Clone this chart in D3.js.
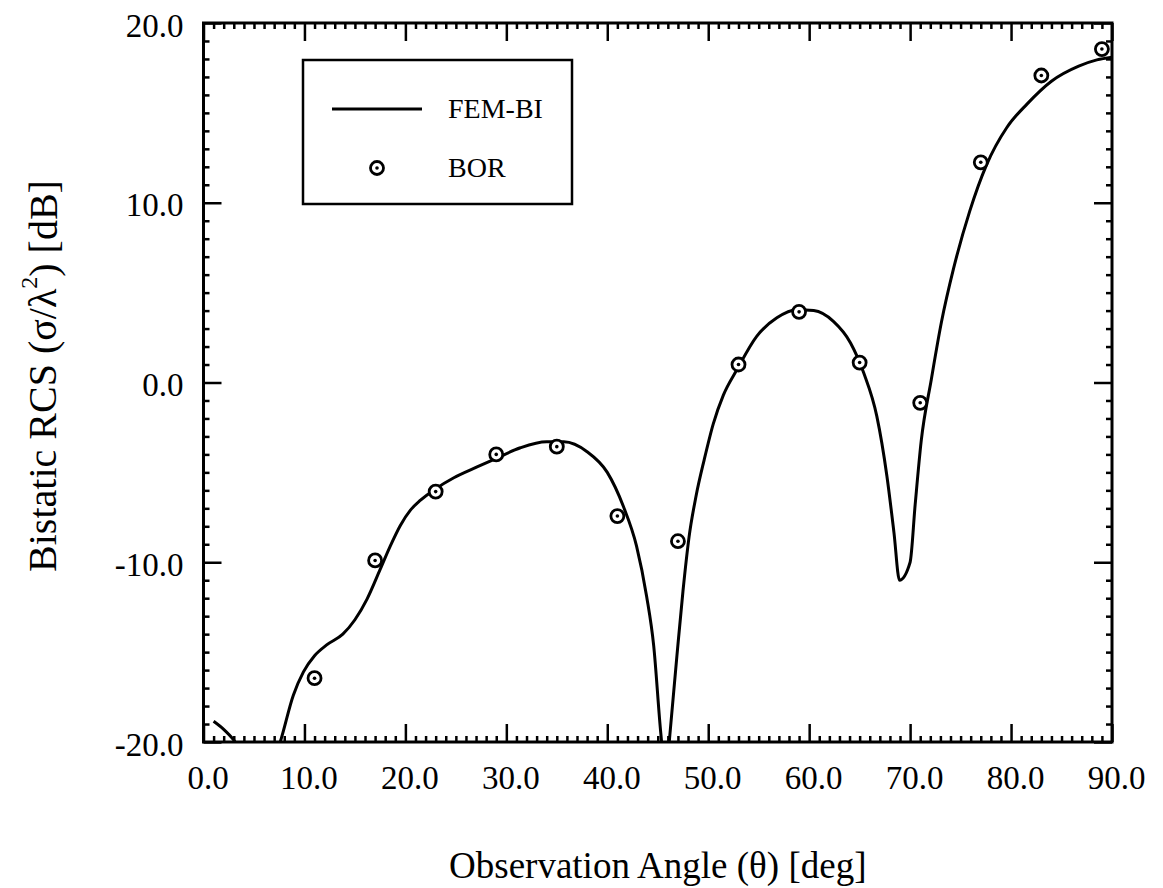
<!DOCTYPE html>
<html>
<head>
<meta charset="utf-8" />
<title>Bistatic RCS</title>
<script src="https://cdn.jsdelivr.net/npm/d3@7"></script>
<style>
  html, body { margin: 0; padding: 0; background: #fff; }
  svg { display: block; font-family: 'Liberation Serif', 'DejaVu Serif', serif; }
</style>
</head>
<body>
<div id="chart"></div>
<script>
// FEM-BI curve (angle in deg, RCS in dB)
var femAngle = [1, 2, 3, 4, 5, 6, 7, 7.6, 8.9, 9.9, 11.0, 12.2, 13.8, 15.0, 16.2, 17.5, 18.5, 19.5,
  20.5, 21.5, 22.9, 24.8, 27.1, 28.9, 31.4, 34.0, 35.7, 38.0, 40.0, 41.6, 42.9, 43.9, 44.6, 45.3, 45.8,
  46.2, 46.9, 47.5, 48.1, 48.8, 49.6, 50.5, 51.5, 52.85, 54.8, 56.8, 58.8, 60.45, 62.4, 64.1, 65.4,
  66.7, 67.7, 68.4, 68.95, 70.0, 70.5, 71.1, 72.1, 73.1, 74.3, 75.9, 77.55, 79.6, 81.6, 84.0,
  86.7, 88.5, 90.0];
var femRcs = [-18.85, -19.3, -19.9, -20.8, -22, -22, -21, -20, -17.4, -16.1, -15.2, -14.6, -14.0,
  -13.2, -12.05, -10.4, -9.1, -7.95, -7.1, -6.55, -5.95, -5.3, -4.7, -4.25, -3.63, -3.3, -3.3, -3.85,
  -5.0, -6.9, -9.1, -11.9, -14.65, -19.5, -22, -19.6, -15.2, -11.6, -8.6, -6.3, -4.3, -2.3, -0.7,
  0.72, 2.57, 3.6, 4.05, 4.0, 3.4, 2.2, 0.54, -1.87, -5.2, -8.35, -11.0, -10.0, -6.8, -3.25, 0.17,
  3.35, 6.33, 9.52, 12.08, 14.2, 15.5, 16.76, 17.6, 17.95, 18.1];

// BOR reference points
var borAngle = [11, 17, 23, 29, 35, 41, 47, 53, 59, 65, 71, 77, 83, 89];
var borRcs = [-16.45, -9.9, -6.07, -4.0, -3.57, -7.43, -8.83, 1.0, 3.93, 1.11, -1.13, 12.25, 17.08, 18.55];

var xMajor = [0, 10, 20, 30, 40, 50, 60, 70, 80, 90];
var yMajor = [-20, -10, 0, 10, 20];

var width = 1163, height = 888;
var pL = 203.5, pR = 1112, pT = 23, pB = 742;

var svg = d3.select("#chart").append("svg")
  .attr("width", width)
  .attr("height", height);

var x = d3.scaleLinear().domain([0, 90]).range([pL, pR]);
var y = d3.scaleLinear().domain([-20, 20]).range([pB, pT]);

var xMinor = d3.range(0, 91, 1).filter(function(d) { return d % 10 !== 0; });
var yMinor = d3.range(-20, 21, 1).filter(function(d) { return d % 10 !== 0; });
var fmt = function(d) { return d.toFixed(1); };

function styleAxis(g) {
  g.attr("font-family", null).attr("font-size", null);
  g.select(".domain").remove();
  g.selectAll(".tick line").attr("stroke", "#000").attr("stroke-width", 2.5);
  g.selectAll(".tick text").attr("fill", "#000").attr("font-size", 33);
}

// bottom
svg.append("g").attr("transform", "translate(0," + pB + ")")
  .call(d3.axisBottom(x).tickValues(xMinor).tickSize(-6).tickFormat(""))
  .call(styleAxis);
svg.append("g").attr("transform", "translate(0," + pB + ")")
  .call(d3.axisBottom(x).tickValues(xMajor).tickSize(-18).tickPadding(24).tickFormat(fmt))
  .call(styleAxis)
  .selectAll(".tick text").attr("dx", 4);
// top
svg.append("g").attr("transform", "translate(0," + pT + ")")
  .call(d3.axisTop(x).tickValues(xMinor).tickSize(-6).tickFormat(""))
  .call(styleAxis);
svg.append("g").attr("transform", "translate(0," + pT + ")")
  .call(d3.axisTop(x).tickValues(xMajor).tickSize(-18).tickFormat(""))
  .call(styleAxis);
// left
svg.append("g").attr("transform", "translate(" + pL + ",0)")
  .call(d3.axisLeft(y).tickValues(yMinor).tickSize(-6).tickFormat(""))
  .call(styleAxis);
svg.append("g").attr("transform", "translate(" + pL + ",0)")
  .call(d3.axisLeft(y).tickValues(yMajor).tickSize(-18).tickPadding(20).tickFormat(fmt))
  .call(styleAxis)
  .selectAll(".tick text").attr("dy", "0.4em");
// right
svg.append("g").attr("transform", "translate(" + pR + ",0)")
  .call(d3.axisRight(y).tickValues(yMinor).tickSize(-6).tickFormat(""))
  .call(styleAxis);
svg.append("g").attr("transform", "translate(" + pR + ",0)")
  .call(d3.axisRight(y).tickValues(yMajor).tickSize(-18).tickFormat(""))
  .call(styleAxis);

// frame
svg.append("rect")
  .attr("x", pL).attr("y", pT)
  .attr("width", pR - pL).attr("height", pB - pT)
  .attr("fill", "none").attr("stroke", "#000").attr("stroke-width", 3);

svg.append("clipPath").attr("id", "plot")
  .append("rect")
  .attr("x", pL).attr("y", pT)
  .attr("width", pR - pL).attr("height", pB - pT);

var line = d3.line()
  .x(function(d, i) { return x(femAngle[i]); })
  .y(function(d) { return y(d); })
  .curve(d3.curveMonotoneX);

svg.append("path")
  .datum(femRcs)
  .attr("clip-path", "url(#plot)")
  .attr("d", line)
  .attr("fill", "none")
  .attr("stroke", "#000")
  .attr("stroke-width", 3);

function marker(g) {
  g.append("circle").attr("r", 6.5).attr("fill", "#fff").attr("stroke", "#000").attr("stroke-width", 2.8);
  g.append("circle").attr("r", 1.8).attr("fill", "#000");
}

svg.append("g").selectAll("g")
  .data(borRcs)
  .join("g")
  .attr("transform", function(d, i) { return "translate(" + x(borAngle[i]) + "," + y(d) + ")"; })
  .call(marker);

// legend
var leg = svg.append("g");
leg.append("rect")
  .attr("x", 303).attr("y", 60).attr("width", 269).attr("height", 144)
  .attr("fill", "#fff").attr("stroke", "#000").attr("stroke-width", 2.5);
leg.append("line")
  .attr("x1", 332).attr("x2", 422).attr("y1", 109).attr("y2", 109)
  .attr("stroke", "#000").attr("stroke-width", 3);
leg.append("text").attr("x", 448).attr("y", 118).attr("font-size", 28).text("FEM-BI");
leg.append("g").attr("transform", "translate(377,168)").call(marker);
leg.append("text").attr("x", 448).attr("y", 177).attr("font-size", 28).text("BOR");

// axis titles
svg.append("text")
  .attr("x", (pL + pR) / 2).attr("y", 878)
  .attr("text-anchor", "middle").attr("font-size", 37)
  .text("Observation Angle (\u03b8) [deg]");

var yt = svg.append("text")
  .attr("transform", "translate(56,376) rotate(-90)")
  .attr("text-anchor", "middle").attr("font-size", 40);
yt.append("tspan").text("Bistatic RCS (\u03c3/\u03bb");
yt.append("tspan").attr("font-size", 24).attr("dy", "-0.8em").text("2");
yt.append("tspan").attr("dy", "0.5em").text(") [dB]");
</script>
</body>
</html>
